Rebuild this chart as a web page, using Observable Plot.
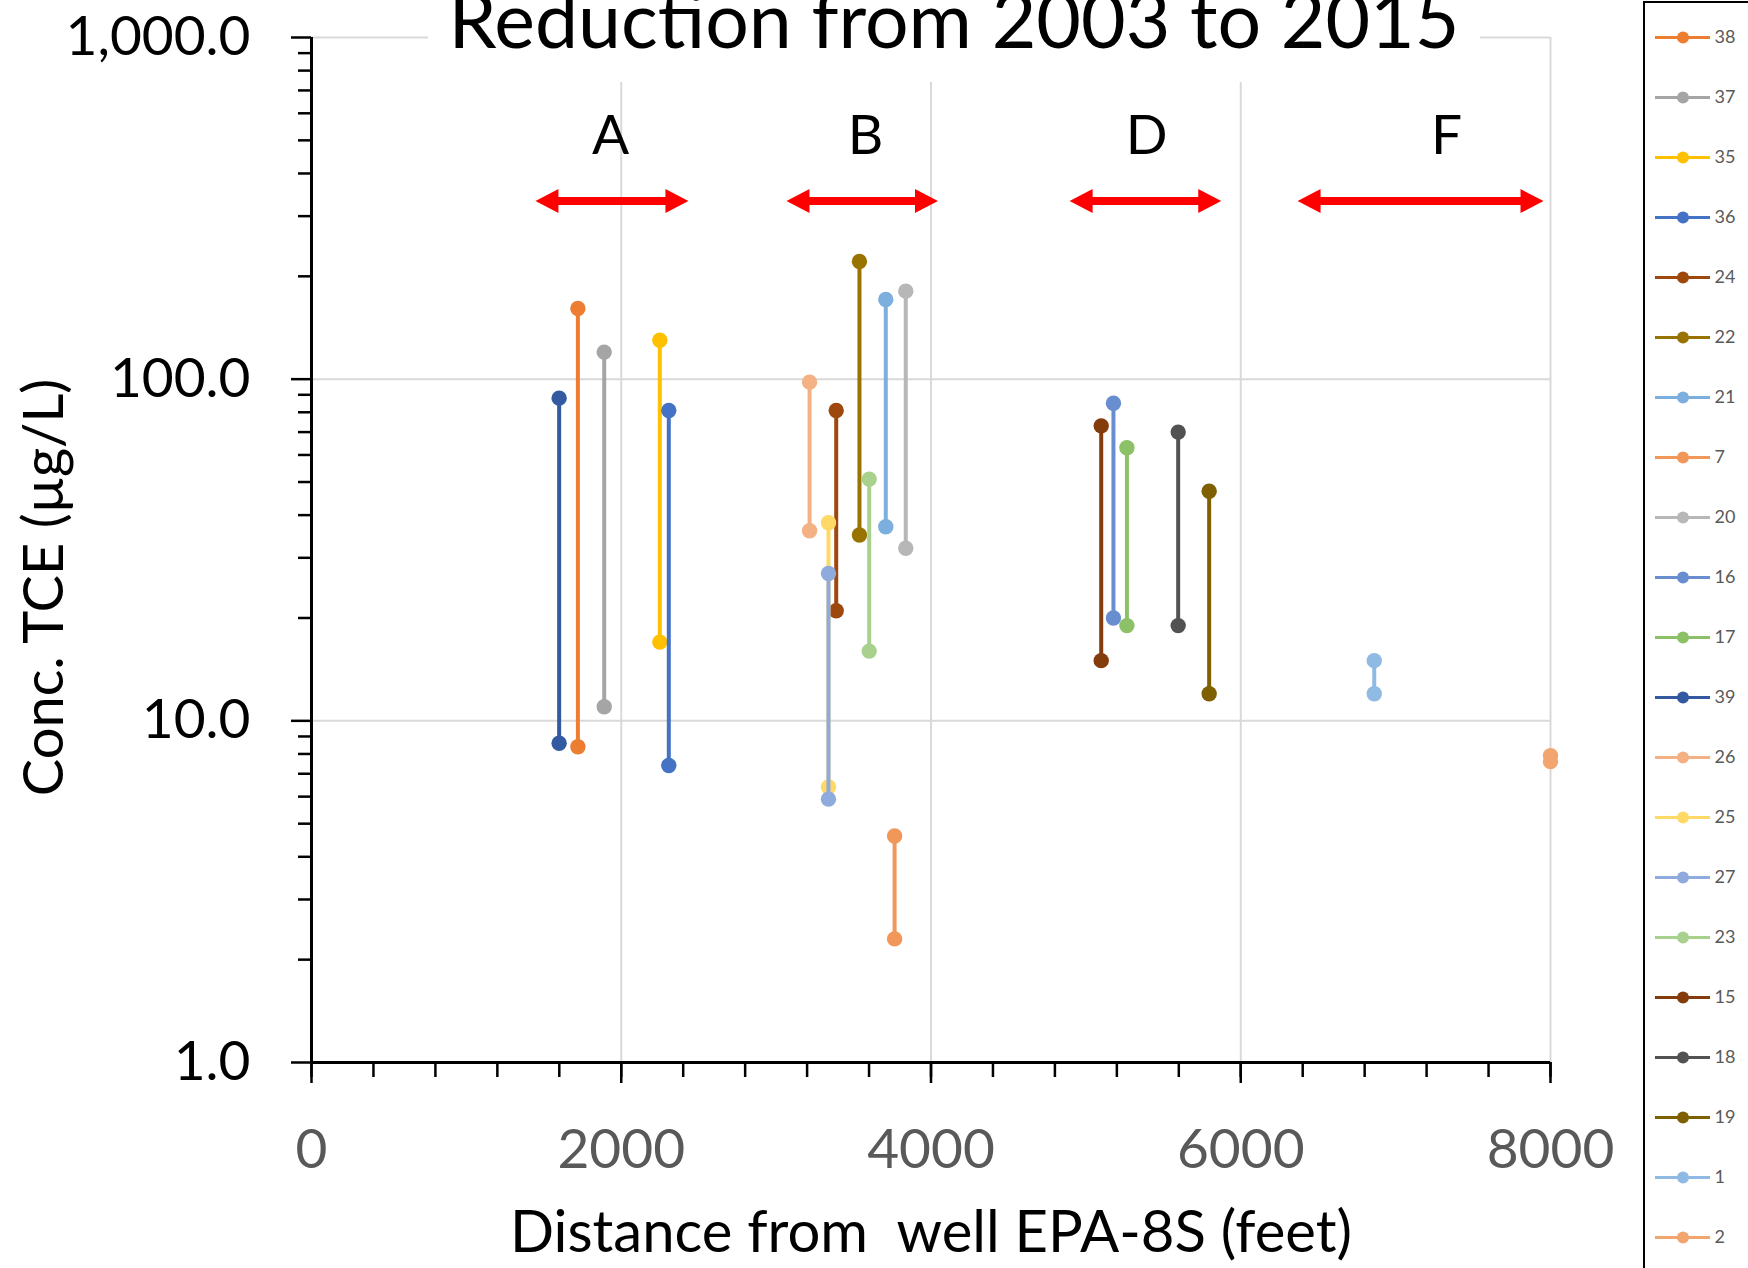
<!DOCTYPE html>
<html><head><meta charset="utf-8">
<script src="https://cdn.jsdelivr.net/npm/d3@7"></script>
<script src="https://cdn.jsdelivr.net/npm/@observablehq/plot@0.6"></script>
<style>
html,body{margin:0;padding:0;background:#fff;}
body{width:1748px;height:1268px;overflow:hidden;position:relative;font-family:Lato,sans-serif;}
#chart{position:absolute;left:0;top:0;}
#title{position:absolute;left:428px;top:-27px;width:1052px;height:109px;background:#fff;text-align:center;font-size:77px;line-height:90px;color:#000;white-space:nowrap;}
#legend{position:absolute;left:1643px;top:1px;width:200px;height:1400px;border:2px solid #000;background:#fff;}
#legend svg{display:block;}
svg text{white-space:pre;}
</style></head><body>
<div id="chart"></div>
<div id="title">Reduction from 2003 to 2015</div>
<div id="legend"></div>
<script>
// ---- data ----
const wells    = ["38","37","35","36","24","22","21","7","20","16","17","39","26","25","27","23","15","18","19","1","2"];
const distance = [1720, 1890, 2249, 2307, 3388, 3538, 3708, 3765, 3837, 5178, 5265, 1599, 3216, 3338, 3338, 3601, 5099, 5596, 5796, 6862, 8000];
const tce2003  = [161, 120, 130, 81, 81, 221, 171, 4.6, 181, 85, 63, 88, 98, 38, 27, 51, 73, 70, 47, 15, 7.9];
const tce2015  = [8.4, 11.0, 17.0, 7.4, 21, 35, 37, 2.3, 32, 20, 19, 8.6, 36, 6.4, 5.9, 16, 15, 19, 12, 12, 7.6];
const colors   = ["#ED7D31","#A5A5A5","#FFC000","#4472C4","#9E480E","#997300","#7CAFDD","#F1975A","#B7B7B7","#698ED0","#8CC168","#335AA1","#F4B183","#FFD966","#8FAADC","#A9D18E","#843C0C","#525252","#7F6000","#8FBAE3","#F3A56F"];

const zones      = ["A","B","D","F"];
const zoneStart  = [1446, 3067, 4895, 6367];
const zoneEnd    = [2434, 4045, 5874, 7955];
const zoneLabelX = [1931, 3577, 5392, 7329];
const arrowLevel = 332;
const labelLevel = 515;

const xMajorTicks = [0, 2000, 4000, 6000, 8000];
const xMinorTicks = d3.range(0, 8001, 400);
const yMajorTicks = [1, 10, 100, 1000];
const yMinorTicks = [2,3,4,5,6,7,8,9,20,30,40,50,60,70,80,90,200,300,400,500,600,700,800,900];
const xGridTicks  = [2000, 4000, 6000, 8000];
const yGridTicks  = [10, 100, 1000];

const xTitle = "Distance from  well EPA-8S (feet)";
const yTitle = "Conc. TCE (µg/L)";

// ---- tables ----
const rows = wells.map((w, i) => ({well: w, dist: distance[i], c2003: tce2003[i], c2015: tce2015[i]}));
const zoneRows = zones.map((z, i) => ({zone: z, start: zoneStart[i], end: zoneEnd[i], lx: zoneLabelX[i], level: arrowLevel, ll: labelLevel}));

const headRight = {draw(ctx, size) { const r = Math.sqrt(size / Math.PI); const L = 2.3 * r, W = 2.4 * r; ctx.moveTo(0, 0); ctx.lineTo(-L, -W / 2); ctx.lineTo(-L, W / 2); ctx.closePath(); }};
const headLeft  = {draw(ctx, size) { const r = Math.sqrt(size / Math.PI); const L = 2.3 * r, W = 2.4 * r; ctx.moveTo(0, 0); ctx.lineTo(L, -W / 2); ctx.lineTo(L, W / 2); ctx.closePath(); }};

const seriesMarks = rows.flatMap(r => [
  Plot.link([r], {x1: "dist", x2: "dist", y1: "c2003", y2: "c2015", stroke: "well", strokeWidth: 4}),
  Plot.dot([{well: r.well, dist: r.dist, conc: r.c2003}, {well: r.well, dist: r.dist, conc: r.c2015}],
           {x: "dist", y: "conc", fill: "well", r: 7.7, stroke: null})
]);

const chart = Plot.plot({
  width: 1748, height: 1268,
  marginLeft: 311, marginRight: 198, marginTop: 37, marginBottom: 206,
  style: {fontFamily: "Lato", background: "transparent", overflow: "visible", color: "black"},
  x: {domain: [0, 8000], label: null},
  y: {type: "log", domain: [1, 1000], label: null},
  color: {domain: wells, range: colors},
  marks: [
    Plot.gridX(xGridTicks, {stroke: "#D9D9D9", strokeOpacity: 1, strokeWidth: 2}),
    Plot.gridY(yGridTicks, {stroke: "#D9D9D9", strokeOpacity: 1, strokeWidth: 2}),
    Plot.axisX(xMinorTicks, {tickSize: 15, tickFormat: () => "", stroke: "black", strokeWidth: 2.5, label: null}),
    Plot.axisX(xMajorTicks, {tickSize: 21, tickPadding: 45, tickFormat: d => String(d), fontSize: 55, fill: "#595959", stroke: "black", strokeWidth: 2.5, label: null}),
    Plot.axisY(yMinorTicks, {tickSize: 13, tickFormat: () => "", stroke: "black", strokeWidth: 2.5, label: null}),
    Plot.axisY(yMajorTicks, {tickSize: 20, tickPadding: 41, tickFormat: d3.format(",.1f"), fontSize: 55, fill: "black", stroke: "black", strokeWidth: 2.5, label: null}),
    Plot.ruleX([0], {stroke: "black", strokeWidth: 3}),
    Plot.ruleY([1], {stroke: "black", strokeWidth: 3}),
    ...seriesMarks,
    Plot.ruleY(zoneRows, {y: "level", x1: "start", x2: "end", stroke: "#FF0000", strokeWidth: 8, inset: 12}),
    Plot.dot(zoneRows, {x: "start", y: "level", symbol: headLeft, r: 10, fill: "#FF0000", stroke: null}),
    Plot.dot(zoneRows, {x: "end", y: "level", symbol: headRight, r: 10, fill: "#FF0000", stroke: null}),
    Plot.text(zoneRows, {x: "lx", y: "ll", text: "zone", fontSize: 55, fill: "black"}),
    Plot.text([xTitle], {frameAnchor: "bottom", lineAnchor: "middle", dy: 171, fontSize: 58, fill: "black"}),
    Plot.text([yTitle], {frameAnchor: "left", textAnchor: "middle", lineAnchor: "middle", rotate: -90, dx: -266, dy: 37.5, fontSize: 56, fill: "black"})
  ]
});
document.getElementById("chart").appendChild(chart);

const legend = Plot.plot({
  width: 103, height: 1265,
  marginLeft: 10, marginRight: 38, marginTop: 30.4, marginBottom: 26.5,
  style: {fontFamily: "Lato", background: "transparent", overflow: "visible"},
  x: {domain: [0, 1], axis: null},
  y: {type: "point", domain: wells, padding: 0, axis: null},
  color: {domain: wells, range: colors},
  marks: [
    Plot.ruleY(wells, {y: d => d, x1: 0, x2: 1, stroke: d => d, strokeWidth: 3}),
    Plot.dot(wells, {x: 0.5, y: d => d, fill: d => d, r: 6, stroke: null}),
    Plot.text(wells, {x: 1, y: d => d, text: d => d, dx: 4, textAnchor: "start", fontSize: 18, fill: "#595959"})
  ]
});
document.getElementById("legend").appendChild(legend);
</script></body></html>
